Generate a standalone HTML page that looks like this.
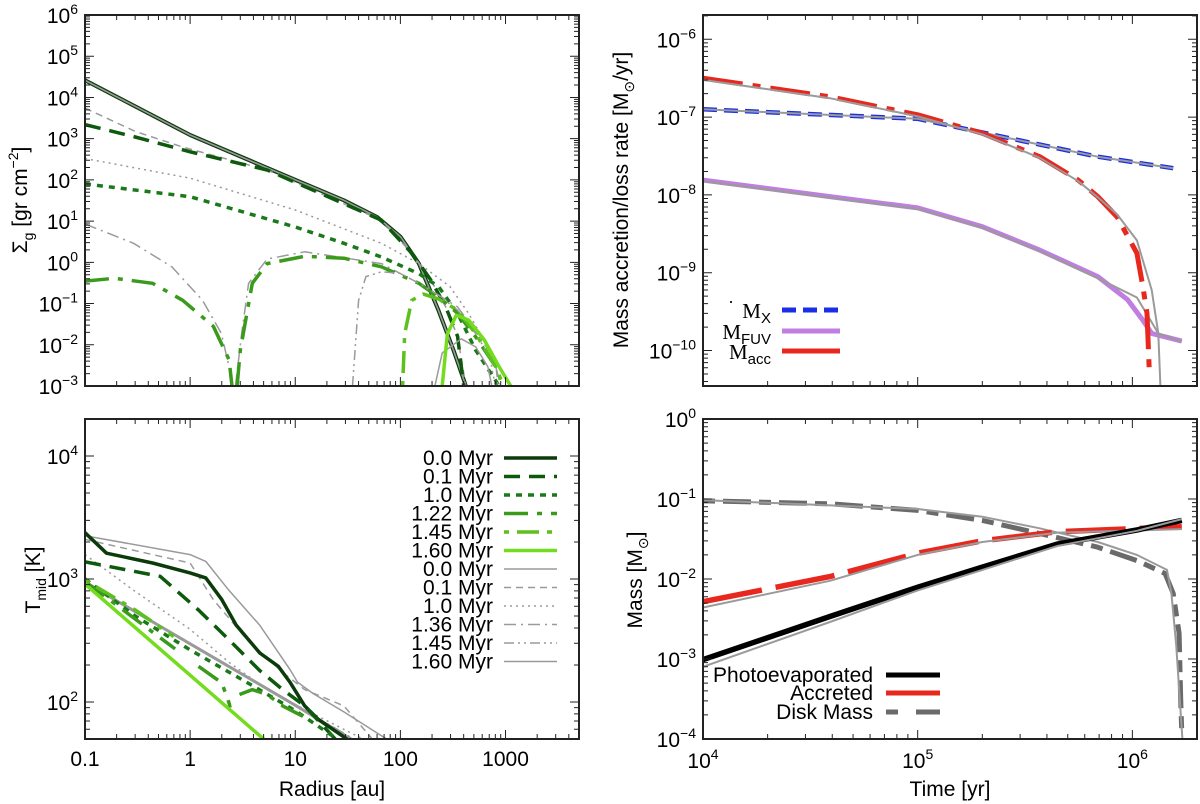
<!DOCTYPE html>
<html><head><meta charset="utf-8"><style>
html,body{margin:0;padding:0;background:#fff}
svg{display:block;font-family:"Liberation Sans",sans-serif}
</style></head><body>
<svg id="fig" width="1200" height="804" viewBox="0 0 1200 804" xmlns="http://www.w3.org/2000/svg"></svg>
<script>
// ---------- Panel 1: surface density ----------
const s00R=[0.1,1,10,29,60,100,150,230,320,420];
const s00V=[2.6e4,1230,100,32,12.6,4.2,0.93,0.069,0.0074,0.001];
const s01R=[0.1,0.3,1,5.4,66,130,195,270,350,400];
const s01V=[2200,1100,480,174,10.5,1.6,0.37,0.083,0.016,0.001];
const g01R=[0.1,0.3,0.86,5.4,66,130,195,270,350,420];
const g01V=[5500,1500,620,174,10.5,1.6,0.37,0.083,0.016,0.001];
const s10R=[0.1,1,10,29,66,150,230,350,520,870];
const s10V=[80,39,7.2,2.9,1.35,0.53,0.26,0.058,0.0074,0.001];
const g10R=[0.1,1,10,66,150,295,445,680,800];
const g10V=[330,110,18.6,2.9,0.93,0.26,0.058,0.0089,0.001];
const s122R=[0.1,0.19,0.44,0.85,1.66,2.35,2.5,null,2.8,3.0,3.9,5.4,12.3,29,66,150,230,350,520,810,950];
const s122V=[0.35,0.41,0.31,0.12,0.028,0.0043,0.001,null,0.001,0.0074,0.31,0.93,1.4,1.26,0.78,0.31,0.145,0.058,0.0155,0.0029,0.001];
const g136R=[0.1,0.29,0.67,1.31,1.98,2.35,2.45,null,2.7,3.1,3.6,5.4,12.3,66,150,350,800,850];
const g136V=[8.5,2.9,0.78,0.12,0.019,0.0029,0.001,null,0.001,0.02,0.31,1.2,1.8,0.93,0.31,0.083,0.0044,0.001];
const s145R=[105,110,128,165,230,350,520,810,950];
const s145V=[0.001,0.0186,0.12,0.17,0.13,0.069,0.0186,0.0029,0.001];
const g145R=[35,40,47,66,100,150,230,350,520,810,900];
const g145V=[0.001,0.12,0.45,0.59,0.54,0.31,0.16,0.069,0.0186,0.0029,0.001];
const s160R=[250,280,340,445,630,870,1120];
const s160V=[0.001,0.0186,0.052,0.04,0.013,0.0029,0.001];
const g160R=[213,250,380,520,680,740];
const g160V=[0.001,0.0063,0.014,0.0089,0.0029,0.001];
// ---------- Panel 2: midplane temperature ----------
const t00R=[0.1,0.16,0.44,1,1.41,2,2.75,4.6,6.9,8.9,12.3,16.6,31];
const t00V=[2380,1620,1350,1120,1020,680,420,250,195,145,93,72,50];
const tg00R=[0.1,1,1.41,2.34,4.6,8.9,10.5,14.8,29,74];
const tg00V=[2250,1580,1390,810,420,184,145,117,83,50];
const t01R=[0.1,0.52,1.2,2.35,4.6,7.6,12.3,24];
const t01V=[1380,1050,560,320,180,126,93,50];
const tg01R=[0.1,1,1.66,3.5,7.6,12.3,29,54];
const tg01V=[2100,1350,680,320,174,126,93,50];
const t10R=[0.1,0.3,1,3,10,25];
const t10V=[1000,500,265,155,85,50];
const tg10R=[0.1,0.29,1,2.35,5.4,12.3,44];
const tg10V=[1580,810,390,210,126,87,50];
const t122R=[0.1,0.72,null,1.2,2.0,2.35,2.4,null,2.95,3.9,5.4,7.6,13.5];
const t122V=[955,270,null,195,143,98,90,null,115,126,115,93,72];
const tg136R=[0.1,1,10,36];
const tg136V=[960,300,95,50];
const t145R=[0.1,0.3,0.7];
const t145V=[980,560,340];
const tg145R=[0.1,1,10,35];
const tg145V=[950,298,94,50];
const t160R=[0.1,1,5];
const t160V=[910,165,50];
const tg160R=[0.1,1,10,34];
const tg160V=[940,297,94,50];
// ---------- Panel 3: rates ----------
const mxT=[1e4,1e5,3.0e5,6.9e5,1.55e6];
const mxV=[1.26e-7,9.5e-8,5.0e-8,3.1e-8,2.2e-8];
const fuvT=[1e4,3.9e4,1e5,2e5,3.7e5,6.9e5,9.5e5,1.12e6,1.23e6,1.7e6];
const fuvV=[1.55e-8,9.5e-9,6.8e-9,3.9e-9,1.95e-9,8.9e-10,4.5e-10,2.45e-10,1.66e-10,1.32e-10];
const fuvgT=[1e4,1e5,2e5,3.7e5,6.9e5,1.05e6,1.32e6,1.7e6];
const fuvgV=[1.5e-8,6.6e-9,3.8e-9,1.9e-9,8.5e-10,4.8e-10,1.66e-10,1.3e-10];
const accT=[1e4,3.9e4,1e5,2e5,3.7e5,5.6e5,6.9e5,8.5e5,1.05e6,1.12e6,1.17e6,1.2e6];
const accV=[3.16e-7,1.82e-7,1.07e-7,6.2e-8,3.1e-8,1.55e-8,9.5e-9,5.2e-9,1.78e-9,6.6e-10,3.0e-10,5e-11];
const accgT=[1e4,3.9e4,1e5,2e5,3.7e5,5.6e5,6.9e5,8.5e5,1.05e6,1.23e6,1.32e6,1.35e6];
const accgV=[3.0e-7,1.75e-7,1.02e-7,6.0e-8,3.0e-8,1.5e-8,9.3e-9,5.6e-9,2.6e-9,6e-10,1.66e-10,3.5e-11];
// ---------- Panel 4: masses ----------
const peT=[1e4,3.9e4,1e5,2e5,4.5e5,1.05e6,1.7e6];
const peV=[9.8e-4,3.4e-3,7.9e-3,1.41e-2,2.75e-2,4.1e-2,5.4e-2];
const pegV=[8e-4,2.9e-3,7.2e-3,1.3e-2,2.6e-2,4.0e-2,5.6e-2];
const acrT=[1e4,3.9e4,1e5,2e5,4.5e5,1.7e6];
const acrV=[5.2e-3,1.07e-2,2.1e-2,3.0e-2,3.9e-2,4.5e-2];
const acrgV=[4.4e-3,9.5e-3,2e-2,2.9e-2,3.8e-2,4.2e-2];
const diskT=[1e4,3.9e4,1e5,2e5,3.7e5,6.9e5,1.05e6,1.42e6,1.55e6,1.65e6,1.68e6,1.7e6];
const diskV=[0.095,0.087,0.072,0.054,0.037,0.025,0.017,0.0117,0.0066,0.0021,3.1e-4,1.17e-4];
const diskgT=[1e4,1e5,2e5,3.7e5,6.9e5,1.05e6,1.45e6,1.52e6,1.6e6,1.71e6];
const diskgV=[0.097,0.075,0.06,0.043,0.029,0.02,0.013,0.0066,0.0015,1e-4];

const NS="http://www.w3.org/2000/svg";
const fig=document.getElementById('fig');
function mk(tag,attrs,parent){const e=document.createElementNS(NS,tag);for(const k in attrs)e.setAttribute(k,attrs[k]);(parent||fig).appendChild(e);return e;}
const lg=Math.log10;
function panel(L,R,T,B,x0,x1,y0,y1){
  return {L,R,T,B,fx:v=>L+(lg(v)-lg(x0))/(lg(x1)-lg(x0))*(R-L),fy:v=>B-(lg(v)-lg(y0))/(lg(y1)-lg(y0))*(B-T),x0,x1,y0,y1};
}
const P1=panel(85,579,15,386,0.1,5000,1e-3,1e6);
const P2=panel(85,579,419,739,0.1,5000,50,20000);
const P3=panel(703,1197,15,386,1e4,2e6,3.5e-11,2.05e-6);
const P4=panel(703,1197,419,739,1e4,2e6,1e-4,1);
[P1,P2,P3,P4].forEach((p,i)=>{
  const c=mk('clipPath',{id:'c'+i});mk('rect',{x:p.L,y:p.T,width:p.R-p.L,height:p.B-p.T},c);p.clip='url(#c'+i+')';
});
function ticks(p,name){
  const g=mk('g',{});
  
  
  let d='';
  const e0=Math.floor(lg(p.x0)),e1=Math.ceil(lg(p.x1));
  for(let e=e0;e<=e1;e++)for(let m=1;m<10;m++){const v=m*Math.pow(10,e);if(v<p.x0*0.999||v>p.x1*1.001)continue;const x=p.fx(v),l=m==1?9:5;d+=`M${x},${p.B}v${-l}M${x},${p.T}v${l}`;}
  const f0=Math.floor(lg(p.y0)),f1=Math.ceil(lg(p.y1));
  for(let e=f0;e<=f1;e++)for(let m=1;m<10;m++){const v=m*Math.pow(10,e);if(v<p.y0*0.999||v>p.y1*1.001)continue;const y=p.fy(v),l=m==1?9:5;d+=`M${p.L},${y}h${l}M${p.R},${y}h${-l}`;}
  mk('path',{d,stroke:'#222','stroke-width':1,fill:'none'},g);
}
function frame(p,name){
  const r=mk('rect',{x:p.L,y:p.T,width:p.R-p.L,height:p.B-p.T,fill:'none',stroke:'#222','stroke-width':2});
  
  
}
function pow10Label(x,y,exp,anchor,name){
  const t=mk('text',{x,y,'font-size':21,'text-anchor':anchor,fill:'#000'});
  
  
  const a=mk('tspan',{},t);a.textContent='10';
  const b=mk('tspan',{'font-size':14,dy:-9},t);b.textContent=exp;
  return t;
}
function yLabels(p,exps,name){exps.forEach(e=>{const s=e<0?'\u2212'+(-e):''+e;pow10Label(p.L-7,p.fy(Math.pow(10,e))+8,s,'end',name+'-tick-label');});}
function series(p,X,Y,col,w,dash,name){
  let d='',pen=false;
  for(let i=0;i<X.length;i++){if(X[i]==null){pen=false;continue;}d+=(pen?'L':'M')+p.fx(X[i]).toFixed(1)+','+p.fy(Y[i]).toFixed(1);pen=true;}
  const a={d,stroke:col,'stroke-width':w,fill:'none','clip-path':p.clip,'stroke-linejoin':'round'};
  if(dash)a['stroke-dasharray']=dash;
  const e=mk('path',a);
  
  
  return e;
}
function text(x,y,s,size,anchor,name,rot){
  const a={x,y,'font-size':size,'text-anchor':anchor||'start',fill:'#000'};
  if(rot)a.transform=`rotate(-90 ${x} ${y})`;
  const t=mk('text',a);t.textContent=s;
  
  
  return t;
}
const G0='#0b3b0b',G1='#0d5a0d',G2='#1a7a1a',G3='#3a9a1c',G4='#5cc01e',G5='#74dc1e',GR='#9a9a9a';
// Panel 1
series(P1,s00R,s00V,G0,4,null,'sigma-0.0myr');
series(P1,s00R,s00V,GR,1.6,null,'sigma-gray-0.0myr');
series(P1,g01R,g01V,GR,1.5,'7,5','sigma-gray-0.1myr');
series(P1,s01R,s01V,G1,3.5,'16,9','sigma-0.1myr');
series(P1,g10R,g10V,GR,1.5,'2,4','sigma-gray-1.0myr');
series(P1,s10R,s10V,G2,3.5,'6,6','sigma-1.0myr');
series(P1,g136R,g136V,GR,1.5,'12,5,2,5','sigma-gray-1.36myr');
series(P1,s122R,s122V,G3,3.5,'24,9,5,9','sigma-1.22myr');
series(P1,g145R,g145V,GR,1.5,'10,4,2,4,2,4','sigma-gray-1.45myr');
series(P1,s145R,s145V,G4,3.5,'5,8,22,8','sigma-1.45myr');
series(P1,g160R,g160V,GR,1.5,null,'sigma-gray-1.60myr');
series(P1,s160R,s160V,G5,3.5,null,'sigma-1.60myr');
// Panel 2
series(P2,tg160R,tg160V,GR,3,null,'tmid-gray-1.60myr');
series(P2,tg136R,tg136V,GR,1.5,'12,5,2,5','tmid-gray-1.36myr');
series(P2,tg145R,tg145V,GR,1.5,'10,4,2,4,2,4','tmid-gray-1.45myr');
series(P2,tg00R,tg00V,GR,1.5,null,'tmid-gray-0.0myr');
series(P2,tg01R,tg01V,GR,1.5,'7,5','tmid-gray-0.1myr');
series(P2,tg10R,tg10V,GR,1.5,'2,4','tmid-gray-1.0myr');
series(P2,t00R,t00V,G0,3.5,null,'tmid-0.0myr');
series(P2,t01R,t01V,G1,3.5,'16,9','tmid-0.1myr');
series(P2,t10R,t10V,G2,3.5,'6,6','tmid-1.0myr');
series(P2,t122R,t122V,G3,3.5,'24,9,5,9','tmid-1.22myr');
series(P2,t145R,t145V,G4,3.5,'5,8,22,8','tmid-1.45myr');
series(P2,t160R,t160V,G5,3.5,null,'tmid-1.60myr');
// Panel 3
series(P3,mxT,mxV,'#1a2ee8',4.5,'14,7','mdot-x');
series(P3,mxT,mxV,GR,2,null,'mdot-x-gray');
series(P3,fuvT,fuvV,'#c07ee0',5,null,'mdot-fuv');
series(P3,fuvgT,fuvgV,GR,2,null,'mdot-fuv-gray');
series(P3,accT,accV,'#e8281e',5,'40,10,8,10','mdot-acc');
series(P3,accgT,accgV,GR,2,null,'mdot-acc-gray');
// Panel 4
series(P4,diskT,diskV,'#6a6a6a',5,'12,8,28,8','disk-mass');
series(P4,diskgT,diskgV,GR,2,null,'disk-mass-gray');
series(P4,acrT,acrV,'#e8281e',5.5,'60,14','accreted-mass');
series(P4,acrT,acrgV,GR,2,null,'accreted-mass-gray');
series(P4,peT,peV,'#000',5.5,null,'photoevaporated-mass');
series(P4,peT,pegV,GR,2,null,'photoevaporated-mass-gray');
// frames & ticks
[[P1,'sigma-plot'],[P2,'tmid-plot'],[P3,'rate-plot'],[P4,'mass-plot']].forEach(([p,n])=>{ticks(p,n);frame(p,n);});
// tick labels
yLabels(P1,[-3,-2,-1,0,1,2,3,4,5,6],'sigma-y');
yLabels(P2,[2,3,4],'tmid-y');
yLabels(P3,[-10,-9,-8,-7,-6],'rate-y');
yLabels(P4,[-4,-3,-2,-1,0],'mass-y');
['0.1','1','10','100','1000'].forEach((s,i)=>text(P2.fx(Math.pow(10,i-1)),766,s,21,'middle','radius-tick-label'));
[4,5,6].forEach(e=>pow10Label(P4.fx(Math.pow(10,e)),768,''+e,'middle','time-tick-label'));
// axis titles
(function(){
 const t=mk('text',{x:27,y:200,'font-size':21,'text-anchor':'middle',transform:'rotate(-90 27 200)'});
 
 t.innerHTML='\u03A3<tspan font-size="14" dy="6">g</tspan><tspan dy="-6"> [gr cm</tspan><tspan font-size="14" dy="-9">\u22122</tspan><tspan dy="9">]</tspan>';
 const u=mk('text',{x:40,y:580,'font-size':21,'text-anchor':'middle',transform:'rotate(-90 40 580)'});
 
 u.innerHTML='T<tspan font-size="14" dy="6">mid</tspan><tspan dy="-6"> [K]</tspan>';
 const v=mk('text',{x:628,y:200,'font-size':21,'text-anchor':'middle',transform:'rotate(-90 628 200)'});
 
 v.innerHTML='Mass accretion/loss rate [M<tspan font-size="14" dy="6">\u2299</tspan><tspan dy="-6">/yr]</tspan>';
 const w=mk('text',{x:642,y:580,'font-size':21,'text-anchor':'middle',transform:'rotate(-90 642 580)'});
 
 w.innerHTML='Mass [M<tspan font-size="14" dy="6">\u2299</tspan><tspan dy="-6">]</tspan>';
})();
text(332,796,'Radius [au]',21,'middle','radius-x-axis-title');
text(950,796,'Time [yr]',21,'middle','time-x-axis-title');
// legends
const legLabels=['0.0 Myr','0.1 Myr','1.0 Myr','1.22 Myr','1.45 Myr','1.60 Myr','0.0 Myr','0.1 Myr','1.0 Myr','1.36 Myr','1.45 Myr','1.60 Myr'];
const legCols=[G0,G1,G2,G3,G4,G5,GR,GR,GR,GR,GR,GR];
const legW=[3.5,3.5,3.5,3.5,3.5,3.5,1.5,1.5,1.5,1.5,1.5,1.5];
const legDash=[null,'16,9','6,6','24,9,5,9','5,8,22,8',null,null,'7,5','2,4','12,5,2,5','10,4,2,4,2,4',null];
legLabels.forEach((s,i)=>{
  const y=458+i*18.5;
  text(493,y+7,s,21,'end','tmid-legend-label');
  const a={x1:504,x2:557,y1:y,y2:y,stroke:legCols[i],'stroke-width':legW[i]};
  if(legDash[i])a['stroke-dasharray']=legDash[i];
  const l=mk('line',a);
  
  
});
(function(){
 const items=[['X','#1a2ee8','14,7',310],['FUV','#c07ee0',null,331],['acc','#e8281e',null,351]];
 items.forEach(([sub,c,d,y])=>{
  const t=mk('text',{x:771,y:y+8,'font-size':21,'text-anchor':'end','font-family':'Liberation Serif, serif'});
  
  t.innerHTML='M<tspan font-size="15" font-family="Liberation Sans, sans-serif" dy="5">'+sub+'</tspan>';
  const a={x1:782,x2:840,y1:y,y2:y,stroke:c,'stroke-width':5};if(d)a['stroke-dasharray']=d;
  const l=mk('line',a);
 });
 text(731,303,'.',18,'middle','mdot-dot');
 const items2=[['Photoevaporated','#000',null,675],['Accreted','#e8281e',null,693],['Disk Mass','#6a6a6a','12,18,28,0',712]];
 items2.forEach(([s,c,d,y])=>{
  text(873,y+7,s,21,'end','mass-legend-label');
  const a={x1:886,x2:940,y1:y,y2:y,stroke:c,'stroke-width':5};if(d)a['stroke-dasharray']=d;
  const l=mk('line',a);
 });
})();
</script>
</body></html>
